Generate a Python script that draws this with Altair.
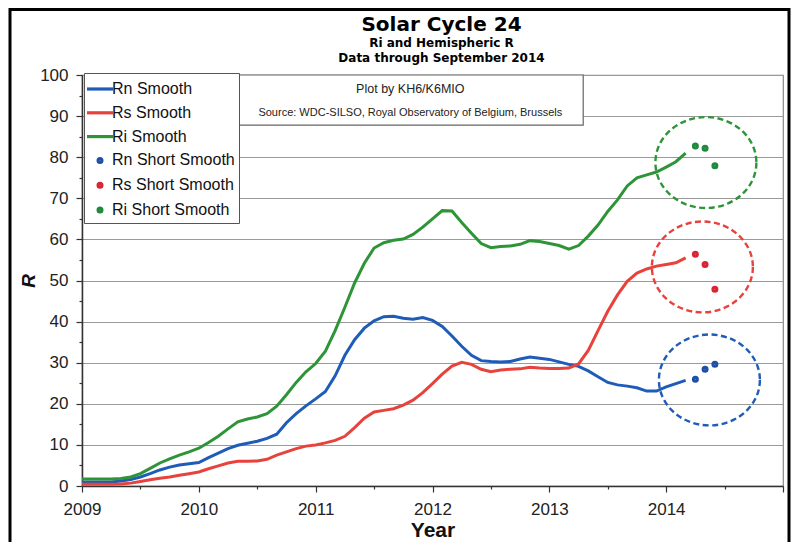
import altair as alt
import pandas as pd

# ---------------- data ----------------
start_year = 2009  # monthly values, Jan 2009 .. Mar 2014
rn_smooth = [1.0, 1.0, 1.0, 1.0, 1.2, 1.6, 2.2, 3.0, 3.9, 4.6, 5.1, 5.4,
             5.7, 6.9, 8.0, 9.1, 9.9, 10.4, 10.9, 11.6, 12.6, 15.4, 17.6, 19.5,
             21.2, 23.0, 26.8, 31.8, 35.6, 38.4, 40.2, 41.2, 41.3, 40.8, 40.6, 41.0,
             40.3, 38.8, 36.5, 34.0, 31.8, 30.5, 30.3, 30.2, 30.3, 30.9, 31.4, 31.1,
             30.8, 30.2, 29.6, 29.1, 28.0, 26.6, 25.2, 24.6, 24.3, 23.9, 23.1, 23.1,
             24.1, 24.9, 25.7]
rs_smooth = [0.4, 0.4, 0.4, 0.4, 0.5, 0.7, 1.1, 1.5, 1.9, 2.2, 2.6, 3.0,
             3.4, 4.2, 4.9, 5.6, 6.0, 6.0, 6.1, 6.5, 7.5, 8.3, 9.1, 9.7,
             10.0, 10.5, 11.1, 12.1, 14.2, 16.5, 18.0, 18.4, 18.8, 19.7, 20.9, 22.7,
             24.9, 27.2, 29.2, 30.1, 29.6, 28.4, 27.8, 28.2, 28.4, 28.5, 28.9, 28.7,
             28.6, 28.6, 28.7, 29.7, 33.0, 37.8, 42.5, 46.5, 49.8, 51.8, 52.8, 53.5,
             53.9, 54.3, 55.5]
ri_smooth = [1.7, 1.7, 1.7, 1.7, 1.8, 2.2, 3.0, 4.3, 5.6, 6.6, 7.5, 8.3,
             9.2, 10.6, 12.1, 13.9, 15.6, 16.3, 16.8, 17.6, 19.4, 22.2, 25.2, 27.8,
             29.8, 32.8, 37.8, 43.5, 49.4, 54.2, 57.9, 59.2, 59.8, 60.1, 61.2, 63.0,
             65.0, 67.0, 66.9, 64.1, 61.5, 59.0, 58.0, 58.3, 58.4, 58.8, 59.7, 59.5,
             59.0, 58.5, 57.6, 58.5, 60.8, 63.5, 66.8, 69.6, 73.0, 75.0, 75.7, 76.4,
             77.6, 78.9, 81.0]

short_years = [2014.25, 2014.333, 2014.417]  # Apr, May, Jun 2014
rn_short = [26.0, 28.4, 29.6]
rs_short = [56.4, 53.9, 47.9]
ri_short = [82.7, 82.2, 77.9]

line_names = ["Rn Smooth", "Rs Smooth", "Ri Smooth"]
short_names = ["Rn Short Smooth", "Rs Short Smooth", "Ri Short Smooth"]
line_colors = ["#1f5cb8", "#e8423c", "#2e9438"]
dot_colors = ["#1f4fa6", "#d82535", "#1e8a3c"]

# dashed circles around the short-smoothed points
circle_series = ["Rn Smooth", "Rs Smooth", "Ri Smooth"]
circle_year = [2014.37, 2014.31, 2014.34]
circle_r = [25.8, 53.3, 78.7]

# annotation box
note_lines = ["Plot by KH6/K6MIO", "Source: WDC-SILSO, Royal Observatory of Belgium, Brussels"]
note_year = [2011.81, 2011.81]
note_r = [96.6, 90.8]
note_box_year = [2010.33, 2013.29]
note_box_r = [87.8, 100.0]

x_ticks = [2009 + 0.5 * k for k in range(13)]
y_ticks = list(range(0, 101, 5))

# ---------------- tables ----------------
rows = []
for name, vals in zip(line_names, [rn_smooth, rs_smooth, ri_smooth]):
    for i, v in enumerate(vals):
        rows.append({"year": start_year + i / 12.0, "R": v, "series": name})
lines_df = pd.DataFrame(rows)

rows = []
for name, vals in zip(short_names, [rn_short, rs_short, ri_short]):
    for yr, v in zip(short_years, vals):
        rows.append({"year": yr, "R": v, "series": name})
short_df = pd.DataFrame(rows)

circ_df = pd.DataFrame({"year": circle_year, "R": circle_r, "series": circle_series})
box_df = pd.DataFrame({"year": [note_box_year[0]], "year2": [note_box_year[1]],
                       "R": [note_box_r[0]], "R2": [note_box_r[1]]})
note1_df = pd.DataFrame({"year": [note_year[0]], "R": [note_r[0]], "txt": [note_lines[0]]})
note2_df = pd.DataFrame({"year": [note_year[1]], "R": [note_r[1]], "txt": [note_lines[1]]})

# ---------------- scales / axes ----------------
x_scale = alt.Scale(domain=[2009, 2015], nice=False, zero=False)
y_scale = alt.Scale(domain=[0, 100], nice=False)

x_axis = alt.Axis(
    values=x_ticks,
    labelExpr="datum.value % 1 === 0 && datum.value < 2015 ? format(datum.value, 'd') : ''",
    grid=False,
    tickSize={"condition": {"test": "datum.value % 1 === 0", "value": 6}, "value": 3},
    tickColor="#333", tickWidth=1.2,
    domainColor="#333", domainWidth=1.5,
    labelFont="Liberation Sans", labelFontSize=17, labelColor="#222",
    labelPadding=9, labelFlush=False,
    titleFont="Liberation Sans", titleFontSize=21, titleFontWeight="bold",
    titleColor="#111", titleY=50, titleBaseline="alphabetic",
)
y_axis = alt.Axis(
    values=y_ticks,
    labelExpr="datum.value % 10 === 0 ? datum.label : ''",
    grid=True,
    gridColor="#9a9a9a", gridWidth=1.2,
    gridOpacity={"condition": {"test": "datum.value % 10 === 0", "value": 1}, "value": 0},
    tickSize={"condition": {"test": "datum.value % 10 === 0", "value": 6}, "value": 3},
    tickColor="#333", tickWidth=1.2,
    domainColor="#333", domainWidth=1.5,
    labelFont="Liberation Sans", labelFontSize=17, labelColor="#222",
    labelPadding=8,
    titleFont="Liberation Sans", titleFontSize=19, titleFontWeight="bold",
    titleFontStyle="italic", titleColor="#111",
    titleX=-54, titleBaseline="middle",
)


def X(field="year"):
    return alt.X(f"{field}:Q", scale=x_scale, axis=x_axis, title="Year")


def Y(field="R"):
    return alt.Y(f"{field}:Q", scale=y_scale, axis=y_axis, title="R")


LINE_PATH = "M -1.3 0 L 1.3 0"
DOT_PATH = ("M 0.19 0 C 0.19 0.105 0.105 0.19 0 0.19 C -0.105 0.19 -0.19 0.105 -0.19 0 "
            "C -0.19 -0.105 -0.105 -0.19 0 -0.19 C 0.105 -0.19 0.19 -0.105 0.19 0 Z")
ELLIPSE_PATH = ("M 1 0 C 1 0.497 0.552 0.9 0 0.9 C -0.552 0.9 -1 0.497 -1 0 "
                "C -1 -0.497 -0.552 -0.9 0 -0.9 C 0.552 -0.9 1 -0.497 1 0 Z")

stroke_scale = alt.Scale(domain=line_names, range=line_colors)
all_names = line_names + short_names
color_scale = alt.Scale(domain=all_names, range=line_colors + dot_colors)
shape_scale = alt.Scale(domain=all_names, range=[LINE_PATH] * 3 + [DOT_PATH] * 3)

legend = alt.Legend(
    orient="none", legendX=2, legendY=-2, title=None,
    labelFont="Liberation Sans", labelFontSize=16, labelColor="#111", labelLimit=300,
    symbolSize=400, symbolStrokeWidth=3.2, symbolOpacity=1,
    padding=4, rowPadding=3.8, labelOffset=0,
    strokeColor="#555", fillColor="white",
)

# ---------------- layers ----------------
frame = alt.Chart(alt.Data(values=[{"f": 1}])).mark_rect(
    fillOpacity=0, stroke="black", strokeWidth=3
).encode(x=alt.value(-72), x2=alt.value(707), y=alt.value(-65.5), y2=alt.value(520))

lines = alt.Chart(lines_df).mark_line(strokeWidth=3).encode(
    x=X(), y=Y(),
    stroke=alt.Stroke("series:N", scale=stroke_scale, legend=None),
    detail="series:N",
)

circles = alt.Chart(circ_df).mark_point(
    shape=ELLIPSE_PATH, size=10200, filled=False, strokeWidth=2.4,
    strokeDash=[6, 3.5], opacity=1
).encode(
    x=X(), y=Y(),
    stroke=alt.Stroke("series:N", scale=stroke_scale, legend=None),
)

dots = alt.Chart(short_df).mark_point(
    filled=False, size=400, strokeWidth=3.2, opacity=1
).encode(
    x=X(), y=Y(),
    color=alt.Color("series:N", scale=color_scale, legend=legend),
    shape=alt.Shape("series:N", scale=shape_scale, legend=legend),
)

box = alt.Chart(box_df).mark_rect(fill="white", stroke="#666", strokeWidth=1.2).encode(
    x=X(), x2="year2:Q", y=Y(), y2="R2:Q"
)
note1 = alt.Chart(note1_df).mark_text(font="Liberation Sans", fontSize=12.5, color="#222").encode(
    x=X(), y=Y(), text="txt:N"
)
note2 = alt.Chart(note2_df).mark_text(font="Liberation Sans", fontSize=11, color="#222").encode(
    x=X(), y=Y(), text="txt:N"
)

chart = alt.layer(frame, lines, circles, dots, box, note1, note2).properties(
    width=701, height=411,
    title=alt.TitleParams(
        text="Solar Cycle 24",
        subtitle=["Ri and Hemispheric R", "Data through September 2014"],
        font="DejaVu Sans", fontSize=20, fontWeight="bold", color="black",
        subtitleFont="DejaVu Sans", subtitleFontSize=12, subtitleFontWeight="bold",
        subtitleColor="black", subtitleLineHeight=15, subtitlePadding=3,
        anchor="middle", frame="group", dx=9, dy=66, offset=10,
    ),
    autosize=alt.AutoSizeParams(type="none"),
    padding={"left": 74, "top": 67, "right": 8, "bottom": 56},
).configure_view(stroke="#888", strokeWidth=1.2)

chart.save("out.html", embed_options={"renderer": "svg", "actions": False})
